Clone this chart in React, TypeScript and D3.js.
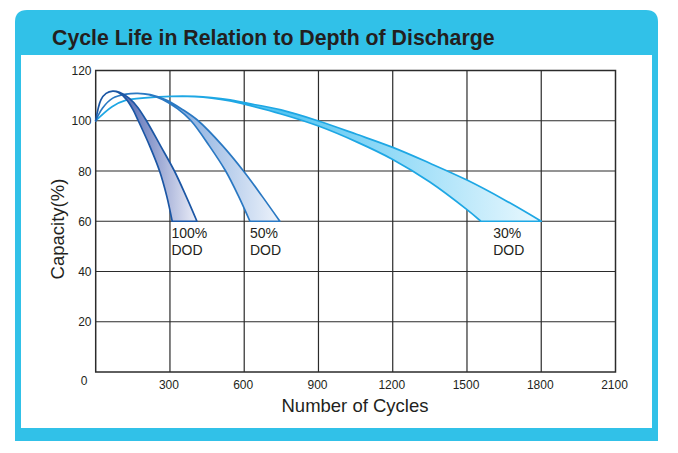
import React, { useEffect, useRef } from 'react';
import * as d3 from 'd3';

// [cycles, capacity %]
const dod100Outer = [[0, 100], [21, 108.3], [42, 110.9], [69, 111.8], [96, 111.3], [136, 108.9], [170, 105.3], [205, 100], [262, 90], [318, 80], [365, 70], [409, 60]];
const dod100Inner = [[0, 100], [21, 108.3], [42, 110.9], [69, 111.8], [90, 111.3], [123, 108.6], [150, 104.5], [172, 100], [218, 90], [258, 80], [287, 70], [309, 60]];

const dod50Outer = [[0, 100], [28, 105.1], [69, 109], [123, 110.6], [170, 110.9], [220, 110.4], [283, 108.3], [350, 104.5], [414, 100], [513, 90], [597, 80], [672, 70], [744, 60]];
const dod50Inner = [[0, 100], [28, 105.1], [69, 109], [123, 110.6], [170, 110.9], [215, 110.4], [270, 108.5], [330, 104.8], [385, 100], [459, 90], [525, 80], [577, 70], [623, 60]];

const dod30Outer = [[0, 100], [66, 105.6], [120, 108.1], [255, 109.5], [400, 109.7], [543, 108.3], [600, 107.2], [749, 104.3], [900, 99.9], [1054, 94.6], [1200, 89.4], [1350, 83.1], [1500, 76.4], [1650, 68.6], [1800, 60]];
const dod30Inner = [[0, 100], [66, 105.6], [120, 108.1], [255, 109.5], [400, 109.6], [543, 107.9], [600, 106.6], [749, 102.7], [900, 97.9], [1054, 91.6], [1200, 84.6], [1350, 75.6], [1500, 64.6], [1556, 60]];

const xTicks = [300, 600, 900, 1200, 1500, 1800, 2100];
const yTicks = [20, 40, 60, 80, 100, 120];
const bandLabels = [
  { pct: '100%', at: 306 },
  { pct: '50%', at: 623 },
  { pct: '30%', at: 1606 },
];

const bands = [
  { outer: dod30Outer, inner: dod30Inner, stroke: '#1ea7e4', from: '#55c5f2', to: '#eaf8fe', gStart: 750 },
  { outer: dod50Outer, inner: dod50Inner, stroke: '#2a78c2', from: '#6c9ad6', to: '#eef3fb', gStart: 230 },
  { outer: dod100Outer, inner: dod100Inner, stroke: '#1b56a4', from: '#5268b2', to: '#eceef8', gStart: 110 },
];

export default function App() {
  const ref = useRef<SVGSVGElement>(null);

  useEffect(() => {
    document.body.style.margin = '0';
    if (!ref.current) return;
    const svg = d3.select(ref.current);
    svg.selectAll('*').remove();

    const font = 'Liberation Sans, Arial, sans-serif';

    // frame
    svg.append('path')
      .attr('d', 'M15,441 L15,22 Q15,10 27,10 L646,10 Q658,10 658,22 L658,441 Z')
      .attr('fill', '#31c1e8');
    svg.append('rect')
      .attr('x', 21).attr('y', 55).attr('width', 631).attr('height', 373)
      .attr('fill', '#fff');
    svg.append('text')
      .attr('x', 52).attr('y', 45)
      .attr('font-family', font).attr('font-weight', 'bold').attr('font-size', 21.3)
      .attr('fill', '#231f20')
      .text('Cycle Life in Relation to Depth of Discharge');

    const x = d3.scaleLinear().domain([0, 2100]).range([95.7, 615.5]);
    const y = d3.scaleLinear().domain([0, 120]).range([372, 70.5]);

    // grid
    const g = svg.append('g');
    g.selectAll('.vx').data(xTicks.slice(0, -1)).enter().append('line')
      .attr('x1', d => x(d)).attr('x2', d => x(d))
      .attr('y1', y(0)).attr('y2', y(120))
      .attr('stroke', '#2b2b2b').attr('stroke-width', 1.2);
    g.selectAll('.hy').data(yTicks.slice(0, -1)).enter().append('line')
      .attr('x1', x(0)).attr('x2', x(2100))
      .attr('y1', d => y(d)).attr('y2', d => y(d))
      .attr('stroke', '#2b2b2b').attr('stroke-width', 1.2);
    g.append('rect')
      .attr('x', x(0)).attr('y', y(120))
      .attr('width', x(2100) - x(0)).attr('height', y(0) - y(120))
      .attr('fill', 'none').attr('stroke', '#2b2b2b').attr('stroke-width', 1.5);

    // bands
    const line = d3.line<number[]>()
      .x(d => x(d[0])).y(d => y(d[1]))
      .curve(d3.curveCatmullRom.alpha(0.5));
    const defs = svg.append('defs');
    bands.forEach((b, i) => {
      const id = `grad${i}`;
      const end = b.outer[b.outer.length - 1][0];
      const grad = defs.append('linearGradient')
        .attr('id', id)
        .attr('gradientUnits', 'userSpaceOnUse')
        .attr('x1', x(b.gStart)).attr('x2', x(end))
        .attr('y1', 0).attr('y2', 0);
      grad.append('stop').attr('offset', '0%').attr('stop-color', b.from);
      grad.append('stop').attr('offset', '100%').attr('stop-color', b.to);

      const outerPath = line(b.outer) as string;
      const innerRev = line([...b.inner].reverse()) as string;
      const d = outerPath + 'L' + innerRev.slice(1) + 'Z';
      svg.append('path')
        .attr('d', d)
        .attr('fill', `url(#${id})`)
        .attr('stroke', b.stroke)
        .attr('stroke-width', 1.7)
        .attr('stroke-linejoin', 'round');
    });

    // band labels
    bandLabels.forEach(l => {
      const t = svg.append('text')
        .attr('font-family', font).attr('font-size', 14).attr('fill', '#231f20');
      t.append('tspan').attr('x', x(l.at)).attr('y', 237.5).text(l.pct);
      t.append('tspan').attr('x', x(l.at)).attr('y', 254.5).text('DOD');
    });

    // axis labels
    svg.selectAll('.xl').data(xTicks).enter().append('text')
      .attr('x', d => x(d) - 1).attr('y', 389)
      .attr('text-anchor', 'middle')
      .attr('font-family', font).attr('font-size', 12).attr('fill', '#231f20')
      .text(d => d);
    svg.selectAll('.yl').data(yTicks).enter().append('text')
      .attr('x', 91.5).attr('y', d => y(d) + 4.5)
      .attr('text-anchor', 'end')
      .attr('font-family', font).attr('font-size', 12).attr('fill', '#231f20')
      .text(d => d);
    svg.append('text')
      .attr('x', 84).attr('y', 385)
      .attr('text-anchor', 'middle')
      .attr('font-family', font).attr('font-size', 12).attr('fill', '#231f20')
      .text('0');

    svg.append('text')
      .attr('x', 355).attr('y', 412)
      .attr('text-anchor', 'middle')
      .attr('font-family', font).attr('font-size', 18.5).attr('fill', '#231f20')
      .text('Number of Cycles');
    svg.append('text')
      .attr('transform', `translate(64, 229) rotate(-90)`)
      .attr('text-anchor', 'middle')
      .attr('font-family', font).attr('font-size', 18.5).attr('fill', '#231f20')
      .text('Capacity(%)');
  }, []);

  return <svg ref={ref} width={678} height={453} style={{ display: 'block' }} />;
}
